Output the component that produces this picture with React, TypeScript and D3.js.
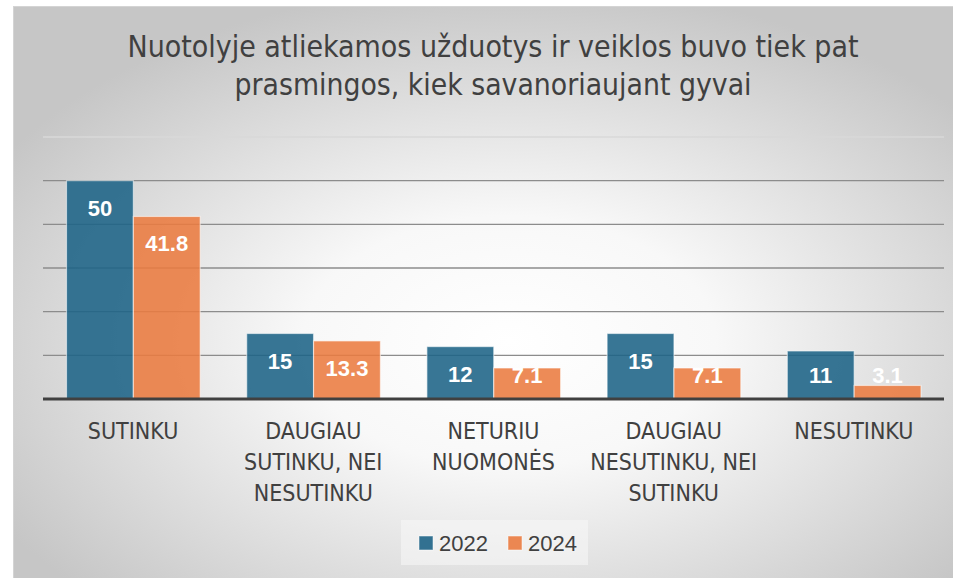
import React from "react";
import * as d3 from "d3";

const categories: string[][] = [
  ["SUTINKU"],
  ["DAUGIAU", "SUTINKU, NEI", "NESUTINKU"],
  ["NETURIU", "NUOMONĖS"],
  ["DAUGIAU", "NESUTINKU, NEI", "SUTINKU"],
  ["NESUTINKU"],
];
const categoryKeys = ["c0", "c1", "c2", "c3", "c4"];
const seriesNames = ["2022", "2024"];
const values2022 = [50, 15, 12, 15, 11];
const values2024 = [41.8, 13.3, 7.1, 7.1, 3.1];
const gridTicks = [10, 20, 30, 40, 50, 60];
const titleLines = [
  "Nuotolyje atliekamos užduotys ir veiklos buvo tiek pat",
  "prasmingos, kiek savanoriaujant gyvai",
];
const titleWidths = [731, 517];

const W = 953;
const H = 578;
const colors = ["#1d6386", "#ea7b40"];
const narrow = "'Liberation Sans Narrow', 'Arial Narrow', 'DejaVu Sans Condensed', sans-serif";

export default function App() {
  const x0 = d3.scaleBand<string>().domain(categoryKeys).range([43, 944]).paddingInner(0).paddingOuter(0);
  const bw = x0.bandwidth();
  const x1 = d3.scaleBand<string>().domain(seriesNames).range([23.5, bw - 23]).padding(0);
  const y = d3.scaleLinear().domain([0, 60]).range([399, 137]);
  const series = [values2022, values2024];

  return (
    <svg width={W} height={H} style={{ position: "absolute", left: 0, top: 0 }}>
      <defs>
        <radialGradient id="bg" cx="52%" cy="58%" r="62%" fx="52%" fy="58%">
          <stop offset="0%" stopColor="#ffffff" />
          <stop offset="35%" stopColor="#f8f8f8" />
          <stop offset="100%" stopColor="#c6c6c6" />
        </radialGradient>
      </defs>
      <rect x={0} y={0} width={W} height={H} fill="#ffffff" />
      <rect x={13.5} y={6.5} width={W} height={H} fill="url(#bg)" stroke="#d4d4d4" strokeWidth={1} />

      <g fill="#404040" fontFamily={narrow} fontSize={30} textAnchor="middle">
        {titleLines.map((t, i) => (
          <text key={i} x={493} y={57 + i * 38} textLength={titleWidths[i]} lengthAdjust="spacingAndGlyphs">{t}</text>
        ))}
      </g>

      <g>
        {gridTicks.map((t) => (
          <line key={t} x1={43} x2={944} y1={y(t)} y2={y(t)} stroke={t === 60 ? "#d9d9d9" : "#8c8c8c"} strokeWidth={1.3} />
        ))}
      </g>

      {categoryKeys.map((k, ci) => (
        <g key={k} transform={`translate(${x0(k)},0)`}>
          {seriesNames.map((s, si) => {
            const v = series[si][ci];
            const top = y(v);
            const labelY = Math.min(top + 27, 375) + 8;
            return (
              <g key={s}>
                <rect
                  x={x1(s)!}
                  y={top}
                  width={x1.bandwidth()}
                  height={y(0) - top}
                  fill={colors[si]}
                  fillOpacity={0.88}
                  stroke="#ffffff"
                  strokeOpacity={0.55}
                  strokeWidth={1.2}
                />
                <text
                  x={x1(s)! + x1.bandwidth() / 2}
                  y={labelY}
                  fill="#ffffff"
                  fontFamily="'Liberation Sans', Arial, sans-serif"
                  fontWeight="bold"
                  fontSize={22}
                  textAnchor="middle"
                >
                  {String(v)}
                </text>
              </g>
            );
          })}
          <g fill="#404040" fontFamily={narrow} fontSize={23} textAnchor="middle">
            {categories[ci].map((line, li) => (
              <text key={li} x={bw / 2} y={439 + li * 31}>{line}</text>
            ))}
          </g>
        </g>
      ))}

      <line x1={43} x2={944} y1={y(0)} y2={y(0)} stroke="#404040" strokeWidth={3} />

      <rect x={401} y={520} width={187} height={45} fill="#f6f6f6" opacity={0.6} />
      <g fontFamily="'Liberation Sans', Arial, sans-serif" fontSize={22} fill="#404040">
        {seriesNames.map((s, i) => (
          <g key={s} transform={`translate(${419 + i * 89},0)`}>
            <rect x={0} y={536} width={14} height={14} fill={colors[i]} fillOpacity={0.9} stroke="#ffffff" strokeOpacity={0.5} />
            <text x={20} y={551}>{s}</text>
          </g>
        ))}
      </g>
    </svg>
  );
}
